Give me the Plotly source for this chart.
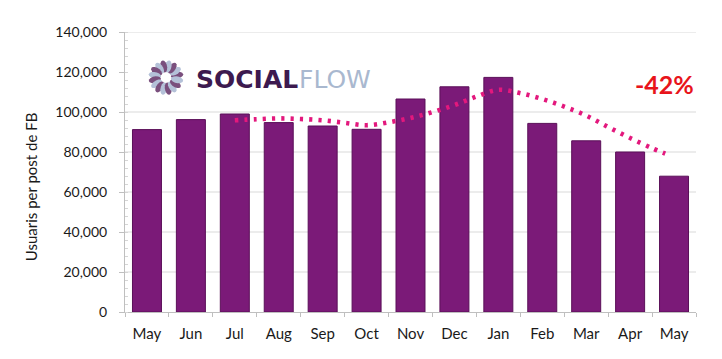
import math
import plotly.graph_objects as go

# ---- data ----
months = ["May", "Jun", "Jul", "Aug", "Sep", "Oct", "Nov", "Dec", "Jan", "Feb", "Mar", "Apr", "May"]
users_per_post = [91200, 96200, 99000, 94700, 93000, 91350, 106500, 112600, 117300, 94300, 85600, 80000, 67900]

# dotted trend line (position in month index, value)
trend_pos = [2.0, 2.5, 3.0, 3.5, 4.0, 4.5, 5.0, 5.5, 6.0, 6.5, 7.0, 7.5, 8.0, 8.5, 9.0, 9.5, 10.0, 10.5, 11.0, 11.5, 11.8]
trend_vals = [95850, 96400, 96800, 96500, 95850, 94600, 93400, 94850, 97050, 99950, 103450, 107700, 111100,
              109400, 106500, 102700, 98200, 92500, 87000, 81900, 79200]

y_ticks = [0, 20000, 40000, 60000, 80000, 100000, 120000, 140000]
y_ticktext = ["0", "20,000", "40,000", "60,000", "80,000", "100,000", "120,000", "140,000"]
hidden_grid = [120000]   # gridline hidden behind the logo strip in the original

y_title = "Usuaris per post de FB"
change_label = "-42%"

# ---- figure ----
x_idx = list(range(len(months)))

fig = go.Figure()
fig.add_trace(go.Bar(
    x=x_idx, y=users_per_post, width=0.66,
    marker=dict(color="#7b1a78", line=dict(color="#5a0f58", width=1)),
    hoverinfo="skip", showlegend=False,
))
fig.add_trace(go.Scatter(
    x=trend_pos, y=trend_vals, mode="lines",
    line=dict(color="#e3187d", width=4.6, dash="3.2px,6.1px", shape="spline", smoothing=1.0),
    hoverinfo="skip", showlegend=False,
))

# the page body adds an 8px offset, so the figure is 8px smaller
OFF = 8
W, H = 722 - OFF, 359 - OFF
L, R, T, B = 117, 25.5, 24, 47.3
pw, ph = W - L - R, H - T - B

def px_x(px):
    return (px - OFF - L) / pw

def px_y(py):
    return (H - B - (py - OFF)) / ph

fig.update_layout(
    width=W, height=H,
    margin=dict(l=L, r=R, t=T, b=B, pad=0),
    paper_bgcolor="white", plot_bgcolor="white",
    font=dict(family="Lato, Open Sans, sans-serif", color="#1a1a1a", size=14),
    bargap=0.34,
)

fig.update_xaxes(
    range=[-0.5, len(months) - 0.5],
    tickmode="array", tickvals=x_idx, ticktext=months,
    ticks="", showgrid=False, zeroline=False,
    showline=True, linecolor="#bfbfbf", linewidth=1,
    tickfont=dict(size=15, color="#1a1a1a"),
    ticklabelstandoff=8, automargin=False,
    minor=dict(tickmode="array", tickvals=[i - 0.5 for i in range(len(months) + 1)],
               ticks="outside", ticklen=4, tickcolor="#bfbfbf", showgrid=False),
)
fig.update_yaxes(
    range=[0, 140000],
    tickmode="array", tickvals=y_ticks, ticktext=y_ticktext,
    ticks="outside", ticklen=5, tickcolor="#bfbfbf",
    showgrid=False,
    zeroline=False, showline=True, linecolor="#bfbfbf", linewidth=1,
    tickfont=dict(size=14, color="#1a1a1a"),
    ticklabelstandoff=9, automargin=False,
    minor=dict(dtick=4000, ticks="inside", ticklen=3, tickcolor="#d5d5d5", showgrid=False),
)

shapes = []
# horizontal gridlines at the tick values (except the one hidden by the logo strip)
for v in y_ticks:
    if v == 0 or v in hidden_grid:
        continue
    shapes.append(dict(type="line", xref="paper", yref="y", x0=0, x1=1, y0=v, y1=v,
                       line=dict(color="#d9d9d9", width=1), layer="below"))

# logo flower
cx, cy = px_x(166), px_y(77.5)
n_petals = 16
for k in range(n_petals):
    ang = 2 * math.pi * k / n_petals + math.pi / 16
    d, a, b = 11.3, 6.2, 3.3
    pts = []
    for j in range(14):
        t = 2 * math.pi * j / 14
        lx, ly = d + a * math.cos(t), b * math.sin(t)
        rx = lx * math.cos(ang) - ly * math.sin(ang)
        ry = lx * math.sin(ang) + ly * math.cos(ang)
        pts.append(f"{rx:.2f},{ry:.2f}")
    path = "M " + " L ".join(pts) + " Z"
    col = "#7a4f7d" if k % 2 == 0 else "#b4c1d8"
    shapes.append(dict(type="path", path=path, xref="paper", yref="paper",
                       xsizemode="pixel", ysizemode="pixel", xanchor=cx, yanchor=cy,
                       fillcolor=col, line=dict(width=0), layer="above"))
fig.update_layout(shapes=shapes)

annotations = [
    dict(text=y_title, xref="paper", yref="paper", x=px_x(31), y=px_y(187),
         xanchor="center", yanchor="middle", textangle=-90, showarrow=False,
         font=dict(family="Lato, sans-serif", size=15, color="#1a1a1a")),
    dict(text="<b>SOCIAL</b>", xref="paper", yref="paper",
         x=px_x(194), y=px_y(79.5), xanchor="left", yanchor="middle", showarrow=False,
         font=dict(family="DejaVu Sans, sans-serif", size=25, color="#3d1a4f")),
    dict(text="FLOW", xref="paper", yref="paper",
         x=px_x(297), y=px_y(79.5), xanchor="left", yanchor="middle", showarrow=False,
         font=dict(family="DejaVu Sans, sans-serif", size=25, color="#a9b8cf")),
    dict(text=f"<b>{change_label}</b>", xref="paper", yref="paper",
         x=px_x(665), y=px_y(84), xanchor="center", yanchor="middle", showarrow=False,
         font=dict(family="Lato, sans-serif", size=25, color="#e8141b")),
]
fig.update_layout(annotations=annotations)

fig.write_html("out.html")
